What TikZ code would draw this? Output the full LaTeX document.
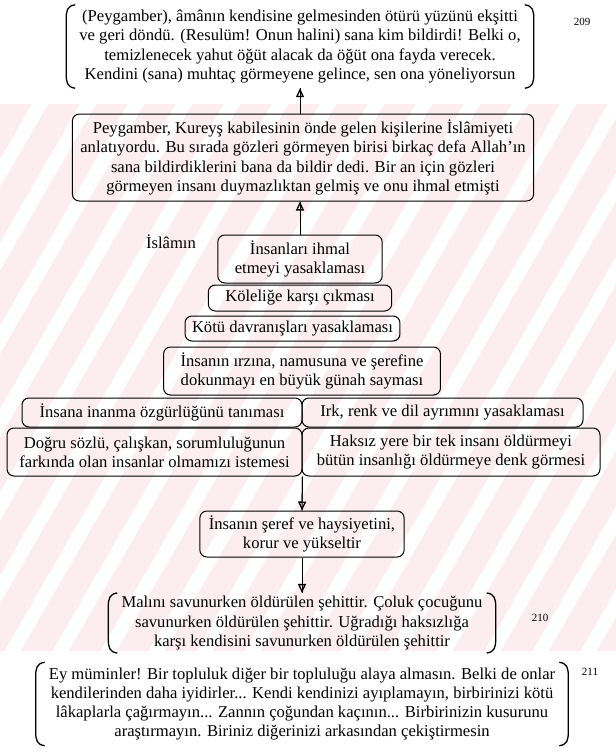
\documentclass[tikz,border=0pt]{standalone}
\usepackage{fontspec}
\setmainfont{Liberation Serif}
\usetikzlibrary{arrows.meta,calc}
\definecolor{wmpink}{RGB}{252,237,240}
\newcommand\brackets[1]{%
  \draw[parline] ($(#1.north west)+(9,0)$) .. controls ($(#1.north west)+(1,1)$) and ($(#1.north west)+(0,6)$) .. ($(#1.north west)+(0,14)$)
     -- ($(#1.south west)+(0,-14)$) .. controls ($(#1.south west)+(0,-6)$) and ($(#1.south west)+(1,-1)$) .. ($(#1.south west)+(9,0)$);
  \draw[parline] ($(#1.north east)+(-9,0)$) .. controls ($(#1.north east)+(-1,1)$) and ($(#1.north east)+(0,6)$) .. ($(#1.north east)+(0,14)$)
     -- ($(#1.south east)+(0,-14)$) .. controls ($(#1.south east)+(0,-6)$) and ($(#1.south east)+(-1,-1)$) .. ($(#1.south east)+(-9,0)$);
}
\begin{document}
\begin{tikzpicture}[x=1pt,y=-1pt,
  txt/.style={font=\fontsize{16.6}{19.3}\selectfont, align=center},
  brtxt/.style={txt, inner xsep=13pt},
  rbox/.style={txt, draw, line width=1pt, rounded corners=7pt, inner xsep=17pt, inner ysep=0pt},
  rowbox/.style={txt, draw, line width=1pt, rounded corners=7pt, inner xsep=4pt, inner ysep=0pt},
  lbl/.style={font=\fontsize{11}{13}\selectfont},
  parline/.style={line width=1.3pt},
  arr/.style={line width=1pt, -{Triangle[open,length=9pt,width=8pt,line width=1.3pt]}, postaction={draw, arrows=-}}
]
\useasboundingbox[fill=white] (0,0) rectangle (616,756);

% faint watermark in the background
\begin{scope}
  \clip (0,104) rectangle (616,650);
  \fill[wmpink] (0,0) rectangle (616,756);
  \foreach \i in {-20,...,16} {\draw[white, line width=14pt] (\i*48,756) -- ++(436,-756);}
\end{scope}

% top quotation (209)
\node[brtxt, inner ysep=5pt] (t209) at (300,46.5) {(Peygamber), âmânın kendisine gelmesinden ötürü yüzünü ekşitti\\ve geri döndü. (Resulüm! Onun halini) sana kim bildirdi! Belki o,\\temizlenecek yahut öğüt alacak da öğüt ona fayda verecek.\\Kendini (sana) muhtaç görmeyene gelince, sen ona yöneliyorsun};
\brackets{t209}
\node[lbl] (n209) at (582,22) {209};

% story box
\node[rbox, inner xsep=8pt, minimum height=87pt] (story) at (303,157.5) {Peygamber, Kureyş kabilesinin önde gelen kişilerine İslâmiyeti\\anlatıyordu. Bu sırada gözleri görmeyen birisi birkaç defa Allah'ın\\sana bildirdiklerini bana da bildir dedi. Bir an için gözleri\\görmeyen insanı duymazlıktan gelmiş ve onu ihmal etmişti};

% pyramid
\node[txt] (islam) at (171,242) {İslâmın};
\node[rbox, minimum height=48pt] (p1) at (300,259) {İnsanları ihmal\\etmeyi yasaklaması};
\node[rbox, minimum height=26pt] (p2) at (300,298) {Köleliğe karşı çıkması};
\node[rbox, inner xsep=7pt, minimum height=25pt] (p3) at (292.5,328.5) {Kötü davranışları yasaklaması};
\node[rbox, minimum height=48pt] (p4) at (302,371) {İnsanın ırzına, namusuna ve şerefine\\dokunmayı en büyük günah sayması};

% rows
\node[rowbox, minimum width=280pt, minimum height=29pt] (r1l) at (162,412.5) {İnsana inanma özgürlüğünü tanıması};
\node[rowbox, minimum width=281pt, minimum height=29pt] (r1r) at (442.5,412.5) {Irk, renk ve dil ayrımını yasaklaması};
\node[rowbox, minimum width=295pt, minimum height=48pt] (r2l) at (154.5,452) {Doğru sözlü, çalışkan, sorumluluğunun\\farkında olan insanlar olmamızı istemesi};
\node[rowbox, minimum width=298pt, minimum height=48pt] (r2r) at (451,452) {Haksız yere bir tek insanı öldürmeyi\\bütün insanlığı öldürmeye denk görmesi};

% result box
\node[rbox, inner xsep=9pt, minimum height=46pt] (mid) at (302,534) {İnsanın şeref ve haysiyetini,\\korur ve yükseltir};

% quotation 210
\node[brtxt, inner ysep=3pt] (t210) at (302,623) {Malını savunurken öldürülen şehittir. Çoluk çocuğunu\\savunurken öldürülen şehittir. Uğradığı haksızlığa\\karşı kendisini savunurken öldürülen şehittir};
\brackets{t210}
\node[lbl] (n210) at (540,618) {210};

% quotation 211
\node[brtxt, inner ysep=5pt] (t211) at (302,704) {Ey müminler! Bir topluluk diğer bir topluluğu alaya almasın. Belki de onlar\\kendilerinden daha iyidirler... Kendi kendinizi ayıplamayın, birbirinizi kötü\\lâkaplarla çağırmayın... Zannın çoğundan kaçının... Birbirinizin kusurunu\\araştırmayın. Biriniz diğerinizi arkasından çekiştirmesin};
\brackets{t211}
\node[lbl] (n211) at (590,672) {211};

% connectors
\draw[arr] (story.north -| p1.north) -- (p1.north |- t209.south);
\draw[arr] (p1.north) -- (p1.north |- story.south);
\draw[arr] (r2l.south east) -- (mid.north);
\draw[arr] (mid.south) -- (mid.south |- t210.north);
\end{tikzpicture}
\end{document}
